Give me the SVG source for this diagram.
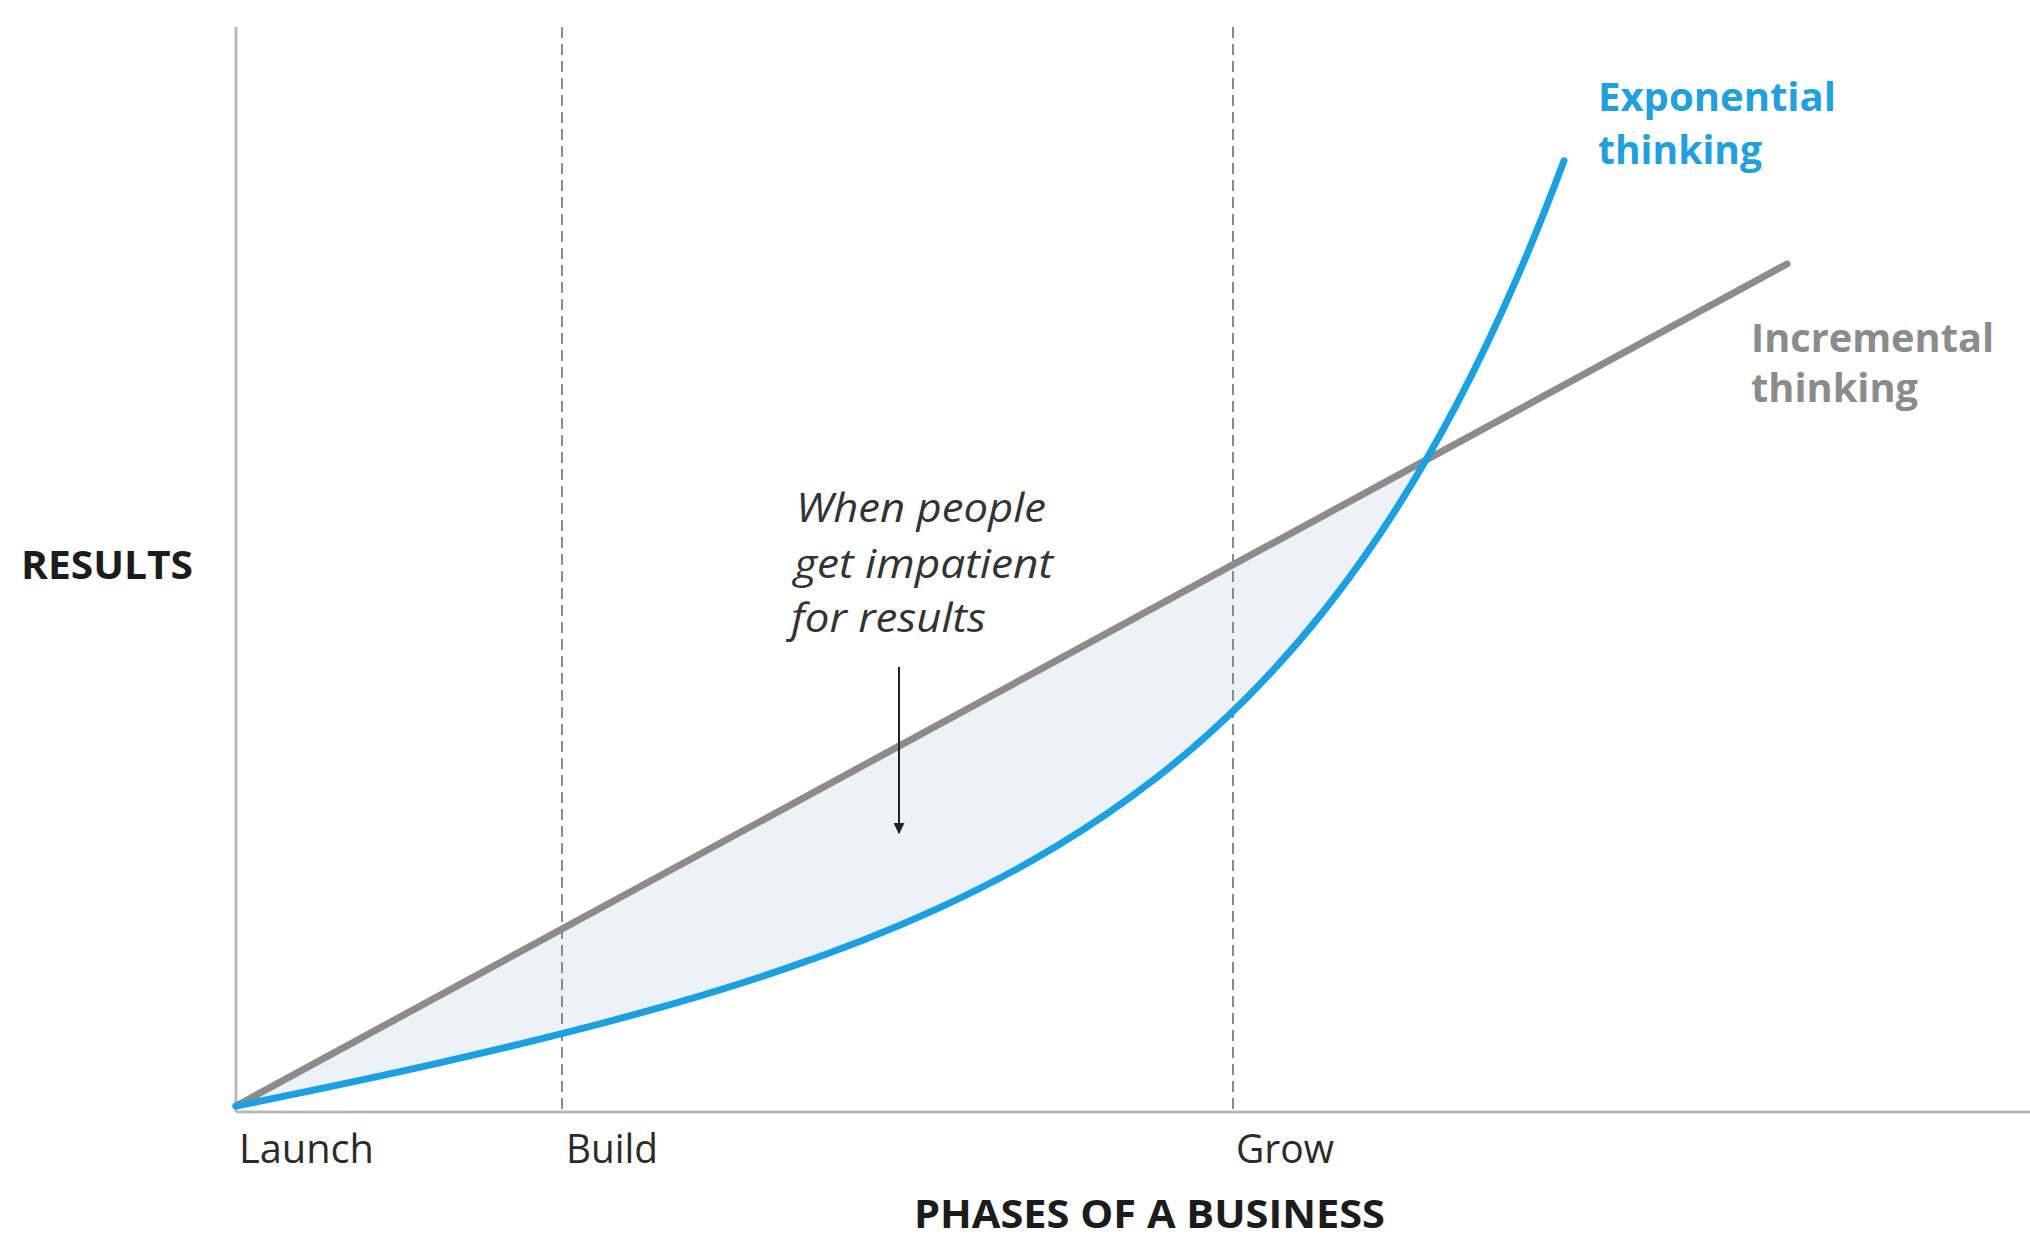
<svg xmlns="http://www.w3.org/2000/svg" width="2030" height="1235" viewBox="0 0 2030 1235">
<style>
.axis{stroke:#b9b9b9;stroke-width:3;fill:none}
.dash{stroke:#8a8a8a;stroke-width:2;stroke-dasharray:11 6;fill:none}
.lbl{font-family:"Open Sans","Liberation Sans",sans-serif;font-size:40px;fill:#2b2b2b}
.bold{font-family:"Open Sans","Liberation Sans",sans-serif;font-weight:700;font-size:40px;fill:#1c1c1c}
.note{font-family:"Open Sans","Liberation Sans",sans-serif;font-style:italic;font-size:40px;fill:#333}
.blue{fill:#22a0dd}
.gray{fill:#8b8b8b}
</style>
<defs>
<marker id="ah" viewBox="0 0 10 10" refX="9" refY="5" markerWidth="11" markerHeight="11" markerUnits="userSpaceOnUse" orient="auto">
<path d="M0,0 L10,5 L0,10 z" fill="#222"/>
</marker>
</defs>
<rect width="2030" height="1235" fill="#fff"/>
<g id="gap-area">
<path d="M236,1106 C302.67,1092.6 369.33,1078.66 436,1063.63 C502.67,1048.6 569.33,1032.51 636,1014.21 C686,1000.48 736,985.52 786,968.43 C836,951.34 886,932.14 936,909.36 C976,891.14 1016,870.6 1056,846.56 C1089.33,826.52 1122.67,804.05 1156,778.09 C1186,754.73 1216,728.54 1246,698.49 C1272.67,671.78 1299.33,642.06 1326,608.25 C1349.33,578.67 1372.67,545.95 1396,509.3 C1406,493.59 1416,477.15 1426,459.89 Z" fill="#ecf2f7"/>
</g>
<g id="axes">
<line class="axis" x1="236" y1="27" x2="236" y2="1112"/>
<line class="axis" x1="236" y1="1112" x2="2030" y2="1112"/>
<line class="dash" x1="562" y1="27" x2="562" y2="1111"/>
<line class="dash" x1="1233" y1="27" x2="1233" y2="1111"/>
</g>
<g id="connectors">
<line x1="236" y1="1106" x2="1787" y2="264" stroke="#8c8c8c" stroke-width="7" stroke-linecap="round"/>
<path d="M236,1106 C302.67,1092.6 369.33,1078.66 436,1063.63 C502.67,1048.6 569.33,1032.51 636,1014.21 C686,1000.48 736,985.52 786,968.43 C836,951.34 886,932.14 936,909.36 C976,891.14 1016,870.6 1056,846.56 C1089.33,826.52 1122.67,804.05 1156,778.09 C1186,754.73 1216,728.54 1246,698.49 C1272.67,671.78 1299.33,642.06 1326,608.25 C1349.33,578.67 1372.67,545.95 1396,509.3 C1416,477.88 1436,443.53 1456,405.6 C1476,367.67 1496,326.14 1516,280.17 C1532,243.39 1548,203.78 1564,160.79" fill="none" stroke="#1ba1e2" stroke-width="7" stroke-linecap="round"/>
<line x1="899" y1="667" x2="899" y2="833" stroke="#222" stroke-width="2" marker-end="url(#ah)"/>
</g>
<g id="label-results"><text class="bold" x="21" y="579" textLength="172" lengthAdjust="spacingAndGlyphs">RESULTS</text></g>
<g id="label-exponential">
<text class="bold blue" x="1598" y="111" textLength="238" lengthAdjust="spacingAndGlyphs">Exponential</text>
<text class="bold blue" x="1598" y="164" textLength="164" lengthAdjust="spacingAndGlyphs">thinking</text>
</g>
<g id="label-incremental">
<text class="bold gray" x="1751" y="352" textLength="243" lengthAdjust="spacingAndGlyphs">Incremental</text>
<text class="bold gray" x="1751" y="402" textLength="167" lengthAdjust="spacingAndGlyphs">thinking</text>
</g>
<g id="label-note">
<text class="note" x="796" y="522" textLength="250" lengthAdjust="spacingAndGlyphs">When people</text>
<text class="note" x="794" y="578" textLength="259" lengthAdjust="spacingAndGlyphs">get impatient</text>
<text class="note" x="791" y="632" textLength="195" lengthAdjust="spacingAndGlyphs">for results</text>
</g>
<g id="label-launch"><text class="lbl" x="239" y="1163" textLength="135" lengthAdjust="spacingAndGlyphs">Launch</text></g>
<g id="label-build"><text class="lbl" x="566" y="1163" textLength="92" lengthAdjust="spacingAndGlyphs">Build</text></g>
<g id="label-grow"><text class="lbl" x="1236" y="1163" textLength="98" lengthAdjust="spacingAndGlyphs">Grow</text></g>
<g id="label-phases"><text class="bold" x="914" y="1228" textLength="471" lengthAdjust="spacingAndGlyphs">PHASES OF A BUSINESS</text></g>
</svg>
